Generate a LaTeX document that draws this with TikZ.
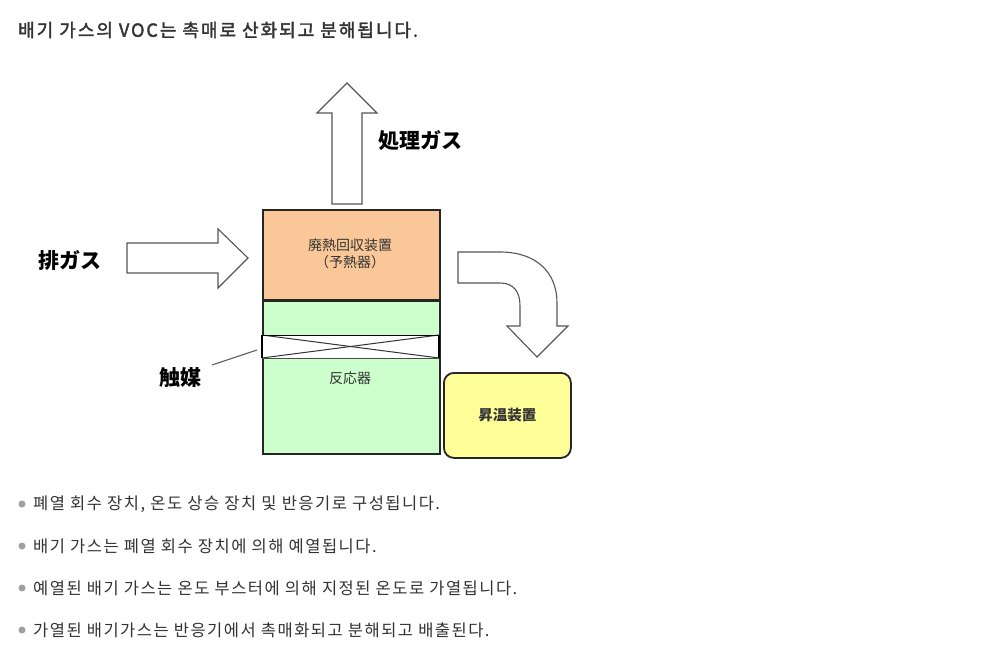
\documentclass[tikz,border=0pt]{standalone}
\usepackage{fontspec}
\newfontfamily\kr[LetterSpace=9]{Noto Sans CJK KR}
\newfontfamily\krtitle[LetterSpace=11,FakeBold=2]{Noto Sans CJK KR}
\newfontfamily\jp{Noto Sans CJK JP}
\definecolor{txt}{HTML}{333333}
\definecolor{arr}{HTML}{555555}
\definecolor{orangefill}{HTML}{FAC898}
\definecolor{greenfill}{HTML}{CCFFCC}
\definecolor{yellowfill}{HTML}{FFFF99}
\definecolor{dotgray}{HTML}{A0A0A0}
\tikzset{
  bigarrow/.style={draw=arr, line width=1.1pt, fill=white, line join=miter},
  unitbox/.style={draw=black!85, line width=1.8pt},
  jlabel/.style={font=\jp\bfseries\fontsize{21}{24}\selectfont, text=black, inner sep=0pt},
  boxtext/.style={font=\jp\fontsize{14}{17}\selectfont, text=txt, inner sep=0pt, align=center},
  bullettext/.style={font=\kr\fontsize{16.5}{19}\selectfont, text=txt, anchor=west, inner sep=0pt},
  bulletdot/.style={circle, fill=dotgray, inner sep=0pt, minimum size=7pt}
}
\begin{document}
\begin{tikzpicture}[x=1pt,y=-1pt]
\useasboundingbox (0,0) rectangle (982,655);
\fill[white] (0,0) rectangle (982,655);

% title
\node[anchor=west, inner sep=0pt, font=\krtitle\fontsize{18}{21}\selectfont, text=txt] (title) at (18,30) {배기 가스의 VOC는 촉매로 산화되고 분해됩니다.};

% up arrow (treated gas)
\draw[bigarrow] (332,204) -- (332,113) -- (317,113) -- (347,83) -- (377,113) -- (362,113) -- (362,204) -- cycle;
\node[jlabel, anchor=west] (treated) at (378,141) {処理ガス};

% right arrow (exhaust gas)
\draw[bigarrow] (127,243) -- (218,243) -- (218,229) -- (248,258) -- (218,288) -- (218,273) -- (127,273) -- cycle;
\node[jlabel, anchor=west] (exhaust) at (38,260) {排ガス};

% heat recovery unit
\node[unitbox, fill=orangefill, minimum width=177pt, minimum height=90pt, inner sep=0pt, anchor=north west] (hr) at (262,209) {};
\node[boxtext] (hrtext) at (350,254) {廃熱回収装置\\（予熱器）};

% reactor
\node[unitbox, fill=greenfill, minimum width=177pt, minimum height=153pt, inner sep=0pt, anchor=north west] (reactor) at (262,300) {};
\coordinate (c1) at (262,335);
\coordinate (c2) at (439,358);
\fill[white] (c1) rectangle (c2);
\draw[black!80, line width=1pt] (c1) -- (c2);
\draw[black!80, line width=1pt] (262,358) -- (439,335);
\draw[black, line width=1pt] (c1) -- (439,335);
\draw[black!70, line width=1pt] (262,358) -- (c2);
\draw[black, line width=2.6pt] (c1) -- (262,358);
\draw[black, line width=2.6pt] (439,335) -- (c2);
\node[boxtext] (rtext) at (350,378) {反応器};

% catalyst label
\node[jlabel, anchor=west] (cat) at (159,378) {触媒};
\coordinate (catend) at (257,350);
\draw[arr, line width=1pt] (212,365) -- (catend);

% curved arrow
\draw[bigarrow] (458,252) -- (500,252) .. controls (536,252) and (557,272) .. (557,303) -- (557,326) -- (568,326) -- (537,357) -- (507,326) -- (520,326) -- (520,306) .. controls (520,292) and (514,283) .. (500,283) -- (458,283) -- cycle;

% heater
\node[draw=black!85, line width=1.8pt, fill=yellowfill, rounded corners=10pt, minimum width=127pt, minimum height=85pt, inner sep=0pt, anchor=north west] (heater) at (443,372) {};
\node[boxtext, font=\jp\bfseries\fontsize{14.5}{17}\selectfont] (htext) at (heater.center) {昇温装置};

% bullets
\node[bulletdot] (d1) at (22,504) {};
\node[bullettext] (b1) at (33,504) {폐열 회수 장치, 온도 상승 장치 및 반응기로 구성됩니다.};
\node[bulletdot] (d2) at (22,546) {};
\node[bullettext] (b2) at (33,546) {배기 가스는 폐열 회수 장치에 의해 예열됩니다.};
\node[bulletdot] (d3) at (22,588) {};
\node[bullettext] (b3) at (33,588) {예열된 배기 가스는 온도 부스터에 의해 지정된 온도로 가열됩니다.};
\node[bulletdot] (d4) at (22,630) {};
\node[bullettext] (b4) at (33,630) {가열된 배기가스는 반응기에서 촉매화되고 분해되고 배출된다.};
\end{tikzpicture}
\end{document}
